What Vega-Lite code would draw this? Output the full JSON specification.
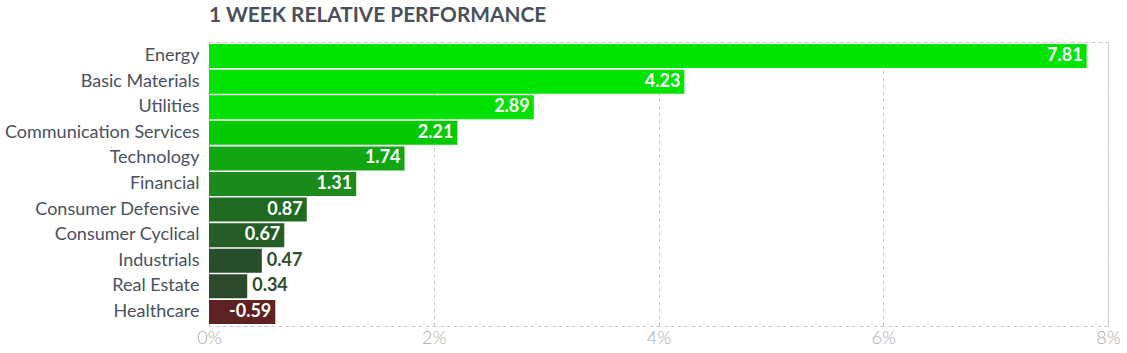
{
  "$schema": "https://vega.github.io/schema/vega-lite/v6.json",
  "width": 899,
  "height": 284,
  "autosize": {"type": "none"},
  "padding": {"left": 209, "top": 42, "right": 19, "bottom": 27},
  "background": "white",
  "title": {
    "text": "1 WEEK RELATIVE PERFORMANCE",
    "anchor": "start",
    "frame": "group",
    "font": "Lato",
    "fontSize": 20.8,
    "fontWeight": "bold",
    "color": "#4a4f5c",
    "offset": 15
  },
  "config": {
    "view": {"stroke": "#cccccc", "strokeDash": [4, 3], "strokeWidth": 1},
    "font": "Lato"
  },
  "data": {
    "values": [
      {"sector": "Energy", "value": 7.81},
      {"sector": "Basic Materials", "value": 4.23},
      {"sector": "Utilities", "value": 2.89},
      {"sector": "Communication Services", "value": 2.21},
      {"sector": "Technology", "value": 1.74},
      {"sector": "Financial", "value": 1.31},
      {"sector": "Consumer Defensive", "value": 0.87},
      {"sector": "Consumer Cyclical", "value": 0.67},
      {"sector": "Industrials", "value": 0.47},
      {"sector": "Real Estate", "value": 0.34},
      {"sector": "Healthcare", "value": -0.59}
    ]
  },
  "transform": [{"calculate": "abs(datum.value)", "as": "len"}],
  "encoding": {
    "y": {
      "field": "sector",
      "type": "nominal",
      "sort": null,
      "scale": {"paddingInner": 0.06, "paddingOuter": 0.08},
      "axis": {
        "title": null,
        "ticks": false,
        "domain": false,
        "labelFont": "Lato",
        "labelFontSize": 18,
        "labelColor": "#4a5060",
        "labelPadding": 10,
        "labelLimit": 0
      }
    },
    "x": {
      "field": "len",
      "type": "quantitative",
      "scale": {"domain": [0, 8], "nice": false},
      "axis": {
        "title": null,
        "values": [0, 2, 4, 6, 8],
        "labelExpr": "datum.value + '%'",
        "labelFlush": false,
        "labelFont": "Lato",
        "labelFontSize": 18,
        "labelFontWeight": 300,
        "labelColor": "#aaaaaa",
        "labelPadding": 3,
        "ticks": false,
        "domain": false,
        "grid": true,
        "gridColor": "#cccccc",
        "gridDash": [4, 3]
      }
    },
    "color": {
      "field": "sector",
      "type": "nominal",
      "legend": null,
      "scale": {
        "domain": ["Energy", "Basic Materials", "Utilities", "Communication Services", "Technology", "Financial", "Consumer Defensive", "Consumer Cyclical", "Industrials", "Real Estate", "Healthcare"],
        "range": ["#00e400", "#00e400", "#00e100", "#06c906", "#12a712", "#1b8b1b", "#216a21", "#245e26", "#284f2a", "#2a4a2b", "#5e2222"]
      }
    }
  },
  "layer": [
    {"mark": {"type": "bar"}},
    {
      "transform": [{"filter": "datum.len >= 0.5"}],
      "mark": {"type": "text", "align": "right", "dx": -4, "font": "Lato", "fontSize": 18, "fontWeight": "bold"},
      "encoding": {
        "text": {"field": "value", "type": "nominal"},
        "color": {"value": "white"}
      }
    },
    {
      "transform": [{"filter": "datum.len < 0.5"}],
      "mark": {"type": "text", "align": "left", "dx": 5, "font": "Lato", "fontSize": 18, "fontWeight": "bold"},
      "encoding": {
        "text": {"field": "value", "type": "nominal"}
      }
    }
  ]
}
